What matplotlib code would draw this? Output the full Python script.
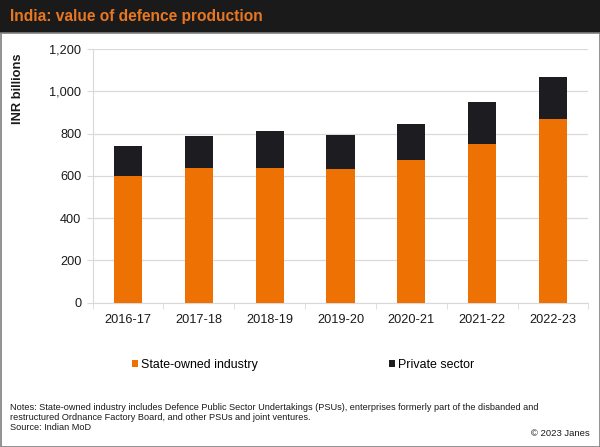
import matplotlib
matplotlib.use("Agg")
import matplotlib.pyplot as plt
from matplotlib.patches import Rectangle
import numpy as np

plt.rcParams['font.family'] = ['Liberation Sans', 'DejaVu Sans']

years = ["2016-17", "2017-18", "2018-19", "2019-20", "2020-21", "2021-22", "2022-23"]
state_owned = [600, 637, 638, 632, 675, 751, 870]
totals = [741, 790, 813, 793, 847, 950, 1068]
private = [t - s for t, s in zip(totals, state_owned)]
yticks = [0, 200, 400, 600, 800, 1000, 1200]

ORANGE = "#EE7203"
DARK = "#1C1C21"
W, H = 600, 447

fig = plt.figure(figsize=(6, 4.47), dpi=100)

# title bar
fig.patches.append(Rectangle((0, 1 - 33 / H), 1, 33 / H, transform=fig.transFigure,
                             facecolor="#1A1A1A", edgecolor="none", zorder=0))
fig.text(10 / W, 1 - 17 / H, "India: value of defence production", color="#E87722",
         fontsize=11.2, fontweight="bold", va="center", ha="left")
# border
fig.patches.append(Rectangle((0.5 / W, 0.5 / H), 1 - 1 / W, 1 - 33 / H - 0.5 / H,
                             transform=fig.transFigure, facecolor="none",
                             edgecolor="#7F7F7F", linewidth=1.2, zorder=5))

ax = fig.add_axes([92.6 / W, 1 - 302.7 / H, (588.4 - 92.6) / W, (302.7 - 49) / H])
x = np.arange(len(years))
ax.bar(x, state_owned, width=0.4, color=ORANGE, zorder=3, label="State-owned industry")
ax.bar(x, private, width=0.4, bottom=state_owned, color=DARK, zorder=3, label="Private sector")

ax.set_ylim(0, 1200)
ax.set_xlim(-0.5, len(years) - 0.5)
ax.set_yticks(yticks)
ax.set_yticklabels([f"{v:,}" for v in yticks], fontsize=9.2, color="#1a1a1a")
ax.set_xticks(x)
ax.set_xticklabels(years, fontsize=9.2, color="#1a1a1a")
ax.set_xticks(np.arange(-0.5, len(years)), minor=True)
ax.tick_params(axis="x", which="major", length=0, pad=8)
ax.tick_params(axis="x", which="minor", length=4, color="#D9D9D9")
ax.tick_params(axis="y", length=4, color="#D9D9D9", pad=4)
ax.grid(axis="y", color="#D9D9D9", linewidth=0.9, zorder=0)
for s in ["top", "right"]:
    ax.spines[s].set_visible(False)
ax.spines["left"].set_color("#D9D9D9")
ax.spines["bottom"].set_color("#D9D9D9")

fig.text(18 / W, 1 - 89 / H, "INR billions", rotation=90, fontsize=9.3, fontweight="bold",
         ha="center", va="center", color="#1a1a1a")

handles, labels = ax.get_legend_handles_labels()
leg_kw = dict(frameon=False, fontsize=8.9, handlelength=0.45, handleheight=0.45,
              handletextpad=0.25, borderpad=0, borderaxespad=0)
fig.legend(handles[:1], labels[:1], loc="center left", bbox_to_anchor=(132 / W, 1 - 365 / H), **leg_kw)
fig.legend(handles[1:], labels[1:], loc="center left", bbox_to_anchor=(389 / W, 1 - 365 / H), **leg_kw)

note_lines = [
    "Notes: State-owned industry includes Defence Public Sector Undertakings (PSUs), enterprises formerly part of the disbanded and",
    "restructured Ordnance Factory Board, and other PSUs and joint ventures.",
    "Source: Indian MoD",
]
for i, line in enumerate(note_lines):
    fig.text(10 / W, 1 - (407 + 10.5 * i) / H, line, fontsize=6.6, va="center", ha="left",
             color="#1a1a1a")
fig.text(590 / W, 1 - 433 / H, "© 2023 Janes", fontsize=6.8, va="center", ha="right", color="#1a1a1a")

fig.savefig("out.png", dpi=100)
